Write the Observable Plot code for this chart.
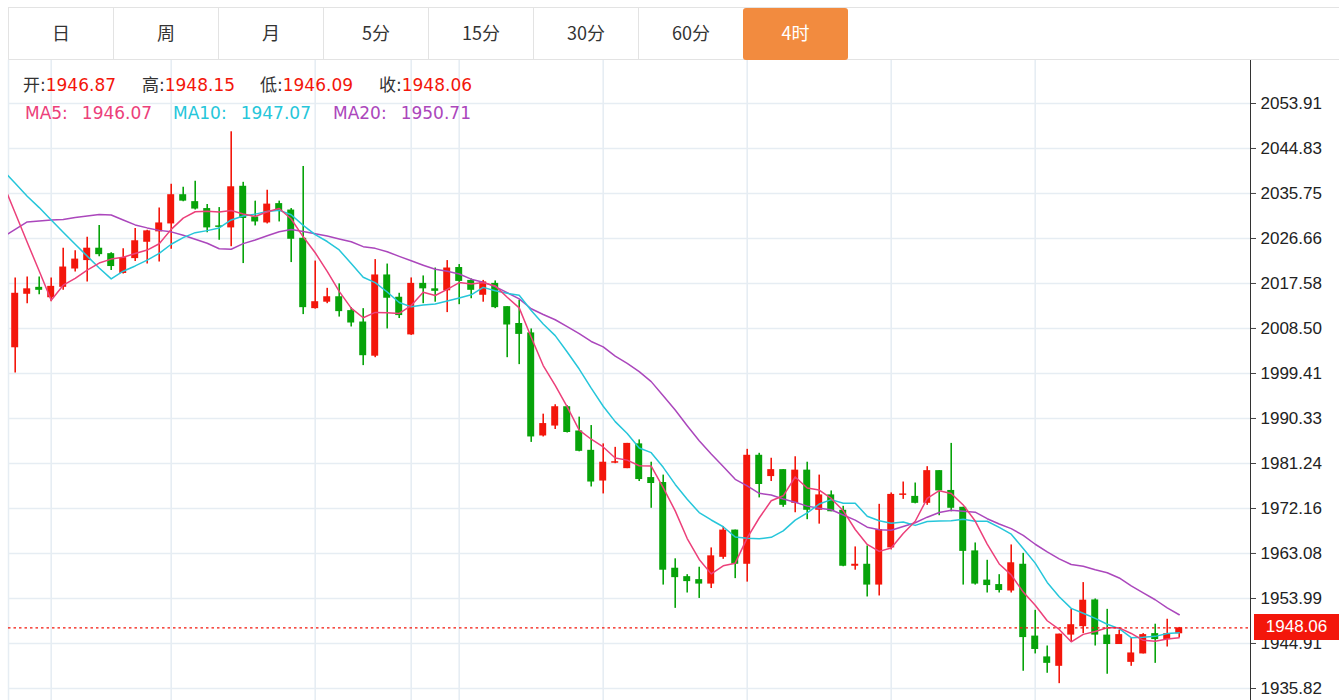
<!DOCTYPE html>
<html><head><meta charset="utf-8">
<script src="https://cdn.jsdelivr.net/npm/d3@7"></script>
<script src="https://cdn.jsdelivr.net/npm/@observablehq/plot@0.6"></script>
<style>
body{margin:0;background:#fff;width:1339px;height:700px;overflow:hidden;position:relative;font-family:"DejaVu Sans","Noto Sans CJK SC",sans-serif;}
#tabs{position:absolute;left:8px;top:7px;height:53px;width:1331px;border-top:1px solid #e3e3e3;border-bottom:1px solid #e3e3e3;box-sizing:border-box;}
.tab{position:absolute;top:0;height:52px;width:105px;border-left:1px solid #e3e3e3;box-sizing:border-box;display:flex;align-items:center;justify-content:center;padding-bottom:4px;font-size:18px;color:#333;font-family:"Noto Sans CJK SC",sans-serif;}
.tab.active{background:#f28b3f;color:#fff;border-radius:3px;border-left:none;}
#chart{position:absolute;left:0;top:60px;}
.leg{position:absolute;font-size:17px;line-height:20px;white-space:pre;}
#tag{position:absolute;left:1254px;width:85px;height:26px;background:#f3160b;color:#fff;font-family:"Liberation Sans",sans-serif;font-size:17px;line-height:26px;text-align:center;}
</style></head>
<body>
<div id="tabs"></div>
<div id="chart"></div>
<div id="legend"></div>
<div id="tag"></div>
<script>
const tabLabels = ["日","周","月","5分","15分","30分","60分","4时"];
const activeTab = "4时";

const open = [2004.6,2015.4,2016.8,2014.7,2016.8,2020.5,2022.2,2024.7,2023.6,2019.6,
2022.6,2025.9,2028.0,2029.6,2035.5,2034.1,2032.7,2029.2,2028.8,2037.2,
2031.0,2029.8,2033.7,2032.4,2026.7,2012.5,2013.8,2014.9,2012.1,2009.8,
2002.9,2019.3,2014.8,2007.2,2017.6,2016.5,2016.1,2020.8,2018.2,2015.2,
2017.6,2012.9,2009.5,2007.6,1986.8,1988.8,1992.7,1987.8,1983.9,1977.7,
1981.3,1980.2,1985.2,1978.4,1977.4,1960.1,1958.4,1957.8,1956.9,1962.3,
1967.8,1960.9,1982.9,1978.6,1980.0,1973.2,1979.9,1971.8,1974.9,1971.8,
1960.5,1960.9,1956.7,1964.2,1974.8,1974.6,1973.2,1979.8,1975.8,1972.4,
1963.6,1957.7,1956.8,1955.5,1960.9,1946.4,1942.2,1940.3,1946.6,1948.3,
1953.7,1946.6,1944.7,1941.1,1942.8,1946.9,1945.7,1946.87];
const high = [2018.7,2018.9,2018.9,2018.7,2024.7,2024.2,2026.9,2029.3,2023.8,2024.6,
2028.7,2028.3,2032.8,2037.6,2037.0,2038.2,2033.5,2032.9,2048.2,2038.0,
2034.2,2036.4,2034.2,2032.7,2041.2,2022.1,2016.6,2017.5,2012.7,2012.5,
2022.4,2021.5,2015.6,2018.7,2019.1,2020.7,2022.2,2021.4,2018.5,2018.2,
2018.1,2012.9,2014.2,2008.4,1991.2,1993.1,1992.9,1990.6,1988.9,1985.2,
1984.5,1985.3,1986.0,1981.5,1978.9,1962.0,1958.8,1960.3,1964.2,1968.5,
1967.8,1984.1,1983.3,1982.3,1980.0,1982.6,1981.5,1978.9,1975.7,1972.6,
1964.4,1964.6,1973.0,1975.3,1977.5,1977.3,1980.6,1979.8,1985.3,1972.4,
1965.2,1961.7,1958.8,1964.8,1963.1,1951.6,1944.4,1946.8,1951.8,1957.2,
1953.9,1951.8,1947.6,1946.1,1946.9,1948.8,1949.8,1948.15];
const low = [1999.5,2013.5,2015.3,2013.9,2016.2,2019.9,2017.9,2023.0,2020.2,2019.5,
2022.0,2021.5,2021.9,2024.5,2034.1,2032.4,2027.8,2026.3,2025.0,2021.6,
2029.2,2029.6,2030.0,2021.8,2011.3,2012.4,2013.5,2010.8,2008.8,2001.0,
2002.6,2008.4,2010.5,2007.1,2013.5,2013.8,2011.7,2013.3,2014.5,2013.8,
2012.5,2002.6,2001.2,1985.5,1986.6,1988.1,1987.4,1983.6,1976.5,1975.1,
1981.2,1980.2,1977.6,1972.2,1956.7,1952.0,1955.1,1954.0,1956.0,1961.9,
1958.0,1957.3,1974.3,1977.6,1972.4,1971.3,1969.9,1969.0,1971.5,1960.4,
1959.7,1954.3,1954.5,1963.8,1974.0,1973.1,1972.8,1970.7,1971.5,1956.7,
1956.7,1955.1,1955.1,1955.1,1939.3,1942.8,1938.9,1936.8,1945.1,1946.9,
1944.4,1938.7,1944.7,1940.3,1942.8,1940.9,1944.2,1946.09];
const close = [2015.6,2016.5,2016.2,2017.0,2020.9,2022.5,2024.7,2023.4,2021.0,2022.8,
2026.2,2028.2,2029.8,2035.5,2034.2,2032.6,2028.8,2028.9,2037.1,2030.7,
2030.0,2033.6,2032.2,2026.5,2012.7,2013.9,2014.9,2011.9,2009.6,2003.0,
2019.3,2014.6,2011.1,2017.6,2016.5,2016.0,2020.7,2018.0,2016.2,2017.9,
2012.7,2009.2,2007.3,1986.6,1989.3,1992.7,1987.5,1983.7,1977.5,1981.5,
1981.6,1985.3,1978.0,1977.2,1959.7,1958.2,1957.4,1956.9,1962.6,1967.8,
1960.9,1982.9,1977.0,1980.0,1972.8,1979.9,1971.8,1974.9,1971.5,1960.5,
1960.9,1956.7,1967.9,1975.0,1975.1,1973.2,1979.8,1975.7,1972.2,1963.5,
1956.9,1956.6,1955.6,1961.2,1946.1,1943.7,1940.9,1946.8,1948.7,1953.65,
1946.6,1944.7,1946.7,1943.0,1946.7,1945.7,1946.9,1948.06];

const ma5Head  = [2037.7,2031.8,2025.9,2020.1,2014.2];
const ma10Head = [2040.4,2037.8,2035.2,2032.9,2030.4,2027.9,2025.5,2023.1,2020.7,2018.5];
const ma20Head = [2027.0,2028.5,2030.0,2030.2,2030.4,2030.5,2030.9,2031.2,2031.5,2031.4,
                  2030.4,2029.4,2028.8,2028.3,2028.0,2027.3,2026.5,2025.7,2024.6,2024.5];

const yTicks = [2053.91,2044.83,2035.75,2026.66,2017.58,2008.50,1999.41,1990.33,1981.24,1972.16,1963.08,1953.99,1944.91,1935.82];
const gridIdx = [3,13,25,33,37,49,61,73,85];

const RED = "#f3160b", GREEN = "#07a30a";
const C5 = "#ec407a", C10 = "#26c6da", C20 = "#ab47bc";

// tabs
const tabs = document.getElementById("tabs");
tabLabels.forEach((t, k) => {
  const d = document.createElement("div");
  d.className = "tab" + (t === activeTab ? " active" : "");
  d.style.left = (k * 105) + "px";
  d.textContent = t;
  tabs.appendChild(d);
});

const n = close.length;
const candles = d3.range(n).map(i => ({i, o: open[i], h: high[i], l: low[i], c: close[i], up: close[i] >= open[i]}));
function ma(k, head) {
  const out = head.map((v, j) => ({i: j - 1, v}));
  for (let i = k - 1; i < n; i++) out.push({i, v: d3.mean(close.slice(i - k + 1, i + 1))});
  return out;
}
const m5 = ma(5, ma5Head), m10 = ma(10, ma10Head), m20 = ma(20, ma20Head);
const up = candles.filter(d => d.up), down = candles.filter(d => !d.up);

const chart = Plot.plot({
  width: 1339, height: 640,
  marginLeft: 8, marginRight: 89, marginTop: 0, marginBottom: 0,
  x: {type: "linear", domain: [-0.558, 102.94], axis: null},
  y: {domain: [1933.40, 2062.59], axis: null},
  style: {background: "transparent", fontFamily: "Liberation Sans, sans-serif", color: "#222", overflow: "visible"},
  marks: [
    Plot.ruleY(yTicks, {stroke: "#e6edf3", strokeWidth: 1.6}),
    Plot.ruleX(gridIdx, {stroke: "#e6edf3", strokeWidth: 1.6}),
    Plot.frame({anchor: "left", stroke: "#e6edf3", strokeWidth: 1.5}),
    Plot.ruleX(up, {x: "i", y1: "l", y2: "h", stroke: RED, strokeWidth: 1.6}),
    Plot.ruleX(down, {x: "i", y1: "l", y2: "h", stroke: GREEN, strokeWidth: 1.6}),
    Plot.rect(up, {x1: d => d.i - 0.29, x2: d => d.i + 0.29, y1: "o", y2: "c", fill: RED}),
    Plot.rect(down, {x1: d => d.i - 0.29, x2: d => d.i + 0.29, y1: "o", y2: "c", fill: GREEN}),
    Plot.line(m20, {x: "i", y: "v", stroke: C20, strokeWidth: 1.5, clip: true}),
    Plot.line(m10, {x: "i", y: "v", stroke: C10, strokeWidth: 1.5, clip: true}),
    Plot.line(m5, {x: "i", y: "v", stroke: C5, strokeWidth: 1.5, clip: true}),
    Plot.ruleY([close[n - 1]], {stroke: RED, strokeWidth: 1.3, strokeDasharray: "2.5,3"}),
    Plot.axisY({anchor: "right", ticks: yTicks, tickFormat: d => d.toFixed(2), tickSize: 5, tickPadding: 5, fontSize: 17, stroke: "#444"}),
    Plot.frame({anchor: "right", stroke: "#333"})
  ]
});
document.getElementById("chart").appendChild(chart);

// price tag
const yPx = chart.scale("y").apply(close[n - 1]) + 60;
const tag = document.getElementById("tag");
tag.style.top = (yPx - 13) + "px";
tag.textContent = close[n - 1].toFixed(2);

// legend
const leg = document.getElementById("legend");
function addLeg(x, y, parts) {
  const d = document.createElement("div");
  d.className = "leg";
  d.style.left = x + "px"; d.style.top = y + "px";
  parts.forEach(([t, c, gap]) => {
    const s = document.createElement("span");
    s.textContent = t; s.style.color = c;
    if (gap) s.style.marginLeft = gap + "px";
    d.appendChild(s);
  });
  leg.appendChild(d);
}
const last = n - 1;
addLeg(23, 75, [["开:", "#333"], [open[last].toFixed(2), RED]]);
addLeg(142, 75, [["高:", "#333"], [high[last].toFixed(2), RED]]);
addLeg(260, 75, [["低:", "#333"], [low[last].toFixed(2), RED]]);
addLeg(379, 75, [["收:", "#333"], [close[last].toFixed(2), RED]]);
addLeg(25, 103, [["MA5:", C5], [m5[m5.length - 1].v.toFixed(2), C5, 14]]);
addLeg(173, 103, [["MA10:", C10], [m10[m10.length - 1].v.toFixed(2), C10, 14]]);
addLeg(333, 103, [["MA20:", C20], [m20[m20.length - 1].v.toFixed(2), C20, 14]]);
</script>
</body></html>
